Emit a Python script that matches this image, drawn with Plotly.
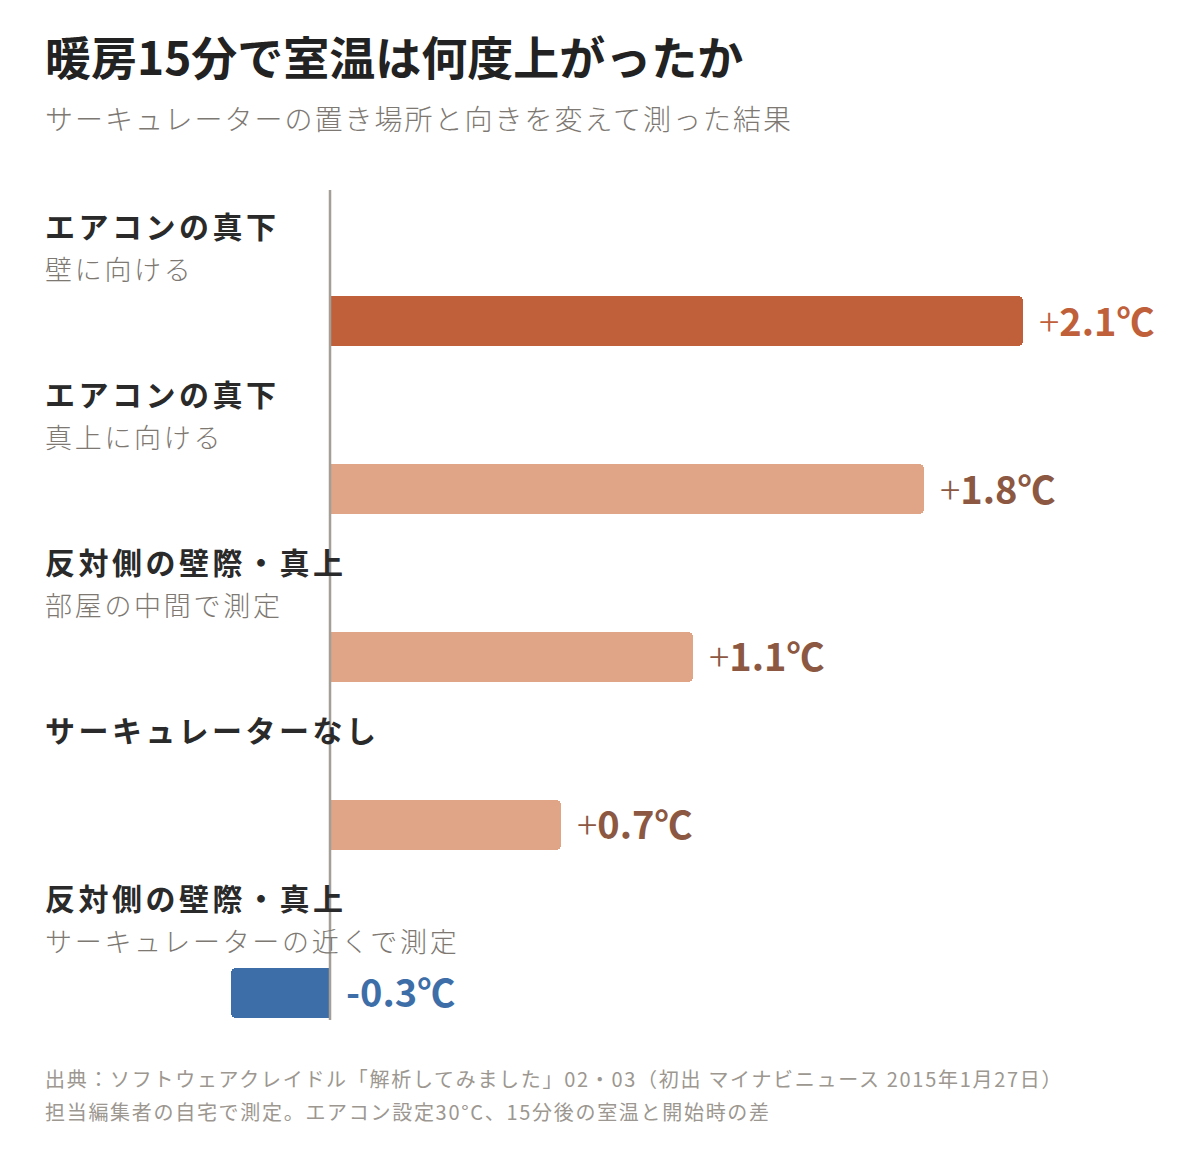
import plotly.graph_objects as go

# データ
labels = ["エアコンの真下", "エアコンの真下", "反対側の壁際・真上", "サーキュレーターなし", "反対側の壁際・真上"]
sublabels = ["壁に向ける", "真上に向ける", "部屋の中間で測定", "", "サーキュレーターの近くで測定"]
values = [2.1, 1.8, 1.1, 0.7, -0.3]
value_text = ["+2.1℃", "+1.8℃", "+1.1℃", "+0.7℃", "-0.3℃"]

bar_colors = ["#c0603a", "#e0a487", "#e0a487", "#e0a487", "#3d6ea8"]
text_colors = ["#c0603a", "#8c5842", "#8c5842", "#8c5842", "#3d6ea8"]

FONT = "Noto Sans CJK JP"
pos = list(range(len(values)))


def fmt_value(t):
    # 「+」だけ細い字にする
    if t.startswith("+"):
        return '<span style="font-weight:300">+</span>' + t[1:]
    return t


fig = go.Figure()
fig.add_trace(go.Bar(
    x=values, y=pos, orientation="h",
    marker=dict(color=bar_colors, cornerradius=5, line=dict(width=0)),
    width=0.3, hoverinfo="skip", showlegend=False,
))

ann = []
for i in pos:
    ann.append(dict(x=-0.86, y=i - 0.57, xref="x", yref="y", xanchor="left", yanchor="middle",
                    xshift=-3, text=f'<span style="letter-spacing:3.5px">{labels[i]}</span>', showarrow=False,
                    font=dict(family=FONT, size=30, color="#2a2a2a", weight="bold")))
    if sublabels[i]:
        ann.append(dict(x=-0.86, y=i - 0.315, xref="x", yref="y", xanchor="left", yanchor="middle",
                        xshift=-3, text=f'<span style="letter-spacing:2.7px">{sublabels[i]}</span>', showarrow=False,
                        font=dict(family=FONT, size=27, color="#7d7872", weight=300)))
    ann.append(dict(x=max(values[i], 0), y=i, xref="x", yref="y", xanchor="left", yanchor="middle",
                    xshift=14, yshift=2, text=fmt_value(value_text[i]), showarrow=False,
                    font=dict(family=FONT, size=38, color=text_colors[i], weight="bold")))

ann += [
    dict(x=0.0317, y=1.163, xref="paper", yref="paper", xanchor="left", yanchor="middle",
         xshift=-3, text="暖房15分で室温は何度上がったか", showarrow=False,
         font=dict(family=FONT, size=46, color="#222222", weight="bold")),
    dict(x=0.0317, y=1.087, xref="paper", yref="paper", xanchor="left", yanchor="middle",
         xshift=-3, text='<span style="letter-spacing:2px">サーキュレーターの置き場所と向きを変えて測った結果</span>',
         showarrow=False, font=dict(family=FONT, size=28, color="#7d7872", weight=300)),
    dict(x=0.0317, y=-0.070, xref="paper", yref="paper", xanchor="left", yanchor="middle",
         xshift=-3, text='<span style="letter-spacing:1.7px">出典：ソフトウェアクレイドル「解析してみました」02・03（初出 マイナビニュース 2015年1月27日）</span>',
         showarrow=False, font=dict(family=FONT, size=20, color="#9c9790")),
    dict(x=0.0317, y=-0.110, xref="paper", yref="paper", xanchor="left", yanchor="middle",
         xshift=-3, text='<span style="letter-spacing:1.7px">担当編集者の自宅で測定。エアコン設定30°C、15分後の室温と開始時の差</span>',
         showarrow=False, font=dict(family=FONT, size=20, color="#9c9790")),
]

fig.update_layout(
    width=1200, height=1150,
    margin=dict(l=0, r=0, t=182, b=138),
    paper_bgcolor="white", plot_bgcolor="white",
    xaxis=dict(range=[-0.9758, 2.6606], visible=False, fixedrange=True),
    yaxis=dict(range=[4.161, -0.78], visible=False, fixedrange=True),
    annotations=ann,
    shapes=[dict(type="line", xref="x", yref="paper", x0=0, x1=0, y0=0, y1=1,
                 line=dict(color="#a39e96", width=2.5), layer="above")],
    bargap=0,
)

fig.write_html("out.html")
